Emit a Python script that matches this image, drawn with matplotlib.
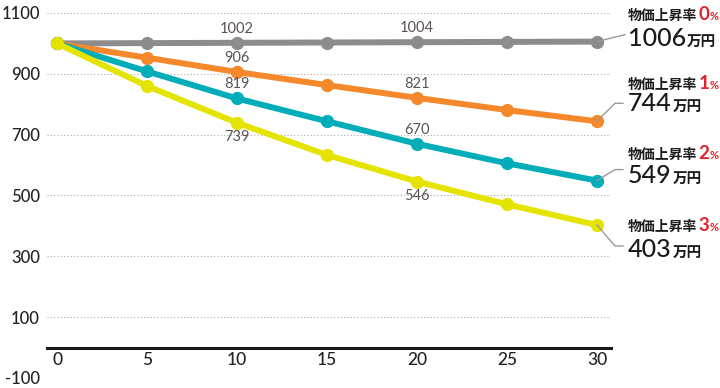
import matplotlib
matplotlib.use("Agg")
import matplotlib.pyplot as plt
from matplotlib.lines import Line2D

years = [0, 5, 10, 15, 20, 25, 30]
rate_labels = ["0%", "1%", "2%", "3%"]
rate_nums = ["0", "1", "2", "3"]
s0 = [1000, 1001, 1002, 1003, 1004, 1005, 1006]
s1 = [1000, 953, 906, 863, 821, 781, 744]
s2 = [1000, 908, 819, 744, 670, 606, 549]
s3 = [1000, 860, 739, 633, 546, 471, 403]
series = [s0, s1, s2, s3]
colors = ["#8c8c8e", "#f5882a", "#00adb8", "#e4e400"]
yticks = [-100, 100, 300, 500, 700, 900, 1100]
xticks = [0, 5, 10, 15, 20, 25, 30]
# data labels: (series index, x index, above?)
data_labels = [(0, 2, True), (0, 4, True), (1, 2, True), (1, 4, True),
               (2, 2, True), (2, 4, True), (3, 2, False), (3, 4, False)]
# right-side label layout (pixel offsets relative to end point; image y downward)
hdr_off = [-22, -32, -22, 6]
val_off = [4, -10, 2, 32]
leader_mid = [None, -18, -11, 21]

NUMF = "Lato"
CJK = ["Noto Sans CJK JP", "DejaVu Sans"]

W, H, DPI = 720, 388, 100
fig = plt.figure(figsize=(W / DPI, H / DPI), dpi=DPI)
ax = fig.add_axes([47 / W, 1 - 378 / H, (611 - 47) / W, (378 - 13) / H])
ax.set_xlim(-0.56, 30.78)
ax.set_ylim(-100, 1100)

for sp in ["top", "right", "left"]:
    ax.spines[sp].set_visible(False)
ax.spines["bottom"].set_position(("data", 0))
ax.spines["bottom"].set_linewidth(2.2)
ax.spines["bottom"].set_color("#1a1a1a")
ax.spines["bottom"].set_zorder(1)

ax.set_yticks(yticks)
ax.set_yticklabels([str(v) for v in yticks])
ax.set_xticks(xticks)
ax.set_xticklabels([str(v) for v in xticks])
ax.tick_params(axis="y", length=0, pad=5, labelsize=12, labelcolor="#222222")
ax.tick_params(axis="x", length=0, pad=3, labelsize=12.5, labelcolor="#222222")
for lab in ax.get_xticklabels() + ax.get_yticklabels():
    lab.set_fontfamily(NUMF)
    lab.set_fontweight("medium")
for v in yticks:
    ax.axhline(v, color="#aaaaaa", lw=0.8, ls=(0, (1, 2)), zorder=0)

for s, c in zip(series, colors):
    ax.plot(years, s, color=c, lw=4.3, marker="o", ms=8.5, zorder=3,
            solid_capstyle="round", clip_on=False)

for si, xi, above in data_labels:
    ax.annotate(str(series[si][xi]), (years[xi], series[si][xi]),
                xytext=(0, 14 if above else -14), textcoords="offset pixels",
                ha="center", va="center", fontsize=10.5, color="#5a5356",
                fontfamily=NUMF, zorder=5)

fig.canvas.draw()
renderer = fig.canvas.get_renderer()


def put(x, y_img, s, size, color, family, weight="normal"):
    t = fig.text(x, H - y_img, s, transform=None, fontsize=size, color=color,
                 family=family, weight=weight, va="baseline", ha="left")
    bb = t.get_window_extent(renderer)
    return bb.x1


tx0 = 628
for i, s in enumerate(series):
    px, py = ax.transData.transform((years[-1], s[-1]))
    py_img = H - py
    # leader line
    if leader_mid[i] is None:
        xs = [px, 625]
        ys = [py_img, py_img - 7]
    else:
        xs = [px, 615, 623]
        ys = [py_img, py_img + leader_mid[i], py_img + leader_mid[i]]
    fig.add_artist(Line2D(xs, [H - y for y in ys], transform=None,
                          color="#9a9a9a", lw=1.0, zorder=2))
    hy = py_img + hdr_off[i]
    x = put(tx0, hy, "物価上昇率", 10, "#1a1a1a", CJK, "bold")
    x = put(x + 1, hy, rate_nums[i], 13.5, "#e0222a", NUMF, "bold")
    put(x, hy, "%", 8, "#e0222a", NUMF, "bold")
    vy = py_img + val_off[i]
    x = put(tx0, vy, str(s[-1]), 18, "#1a1a1a", NUMF, "medium")
    put(x + 1, vy, "万円", 10.5, "#1a1a1a", CJK, "bold")

fig.savefig("out.png", dpi=DPI)
